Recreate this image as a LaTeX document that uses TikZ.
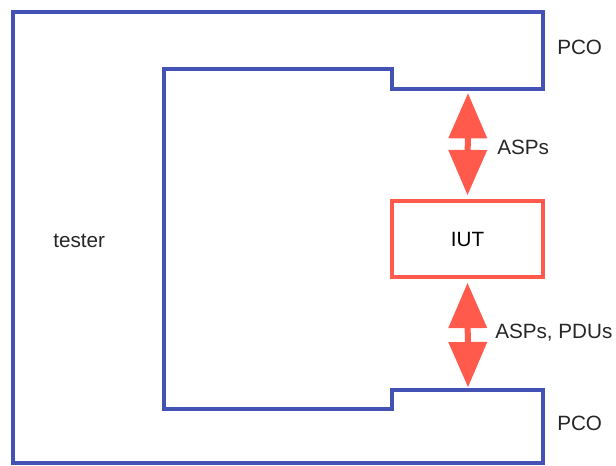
\documentclass[tikz,border=0pt]{standalone}
\usepackage{fontspec}
\setmainfont{Liberation Sans}
\usetikzlibrary{arrows.meta}
\definecolor{TesterBlue}{HTML}{4452B6}
\definecolor{IutRed}{HTML}{FF5A4C}
\tikzset{
  tester line/.style={draw=TesterBlue, line width=3pt, line join=miter},
  iut box/.style={draw=IutRed, fill=white, line width=2.6pt,
    minimum width=113pt, minimum height=57pt, font=\fontsize{15.5}{18}\selectfont},
  fat flow/.style={draw=IutRed, line width=4.5pt,
    {Triangle[length=34pt,width=28pt]}-{Triangle[length=34pt,width=28pt]}},
  plain label/.style={font=\fontsize{15.5}{18}\selectfont, text=black!85, inner sep=0pt},
}

\begin{document}
\begin{tikzpicture}[x=0.75pt, y=-0.75pt]
  \useasboundingbox (0,0) rectangle (616,465);

  % Tester with its two points of control and observation.
  \draw[tester line] (13,12) -- (543,12) -- (543,89) -- (392,89) -- (392,69)
    -- (164,69) -- (164,409) -- (392,409) -- (392,390) -- (543,390)
    -- (543,463) -- (13,463) -- cycle;
  \coordinate (upperPco) at (468,89);
  \coordinate (lowerPco) at (468,390);

  \node[iut box] (iut) at (467.5,239) {IUT};

  \node[plain label, anchor=west] (testerLabel) at (53,241) {tester};
  \node[plain label, anchor=west] (upperPcoLabel) at (557,47) {PCO};
  \node[plain label, anchor=west] (lowerPcoLabel) at (557,423) {PCO};

  % Exchanges between tester and IUT.
  \draw[fat flow] ([yshift=-3pt]upperPco) -- ([yshift=3pt]iut.north);
  \draw[fat flow] ([yshift=-3pt]iut.south) -- ([yshift=2pt]lowerPco);

  \node[plain label, anchor=west] (aspsLabel) at (497,147) {ASPs};
  \node[plain label, anchor=west] (pdusLabel) at (495,333) {ASPs, PDUs};
\end{tikzpicture}
\end{document}
